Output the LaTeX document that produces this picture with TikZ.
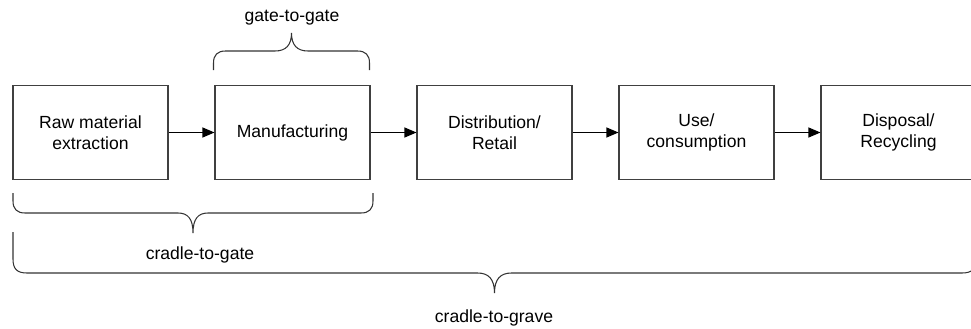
\documentclass[tikz,border=0pt]{standalone}
\usepackage{fontspec}
\setmainfont{Liberation Sans}
\usetikzlibrary{arrows.meta}

\begin{document}
\begin{tikzpicture}[>={Triangle[length=0.24cm,width=0.2cm]}]
\tikzset{stage/.style={draw=black!75, line width=0.6pt, rectangle, align=center,
  minimum width=3.1cm, minimum height=1.88cm}}
\tikzset{bracket/.style={draw=black!80, line width=0.6pt}}

\clip (0,0) rectangle (19.42,-6.58);

% Life cycle stages
\node[stage] (raw) at (1.81,-2.65) {Raw material\\extraction};
\node[stage] (manuf) at (5.85,-2.65) {Manufacturing};
\node[stage] (distr) at (9.89,-2.65) {Distribution/\\Retail};
\node[stage] (use) at (13.93,-2.65) {Use/\\consumption};
\node[stage] (disp) at (17.97,-2.65) {Disposal/\\Recycling};

% Connections
\draw[->, line width=0.6pt] (raw) -- (manuf);
\draw[->, line width=0.6pt] (manuf) -- (distr);
\draw[->, line width=0.6pt] (distr) -- (use);
\draw[->, line width=0.6pt] (use) -- (disp);

% Braces
\draw[bracket] (4.27,-1.40) -- (4.27,-1.26) .. controls (4.27,-1.10) and (4.35,-1.02) .. (4.51,-1.02)
  -- (5.50,-1.02) .. controls (5.72,-1.02) and (5.83,-0.90) .. (5.83,-0.66)
  .. controls (5.83,-0.90) and (5.94,-1.02) .. (6.16,-1.02)
  -- (7.15,-1.02) .. controls (7.31,-1.02) and (7.39,-1.10) .. (7.39,-1.26) -- (7.39,-1.40);
\node (g2g) at (5.84,-0.36) {gate-to-gate};

\draw[bracket] (0.26,-3.86) -- (0.26,-4.02) .. controls (0.26,-4.18) and (0.34,-4.26) .. (0.50,-4.26)
  -- (3.56,-4.26) .. controls (3.76,-4.26) and (3.86,-4.38) .. (3.86,-4.66)
  .. controls (3.86,-4.38) and (3.96,-4.26) .. (4.16,-4.26)
  -- (7.22,-4.26) .. controls (7.38,-4.26) and (7.46,-4.18) .. (7.46,-4.02) -- (7.46,-3.86);
\node (c2gate) at (4.0,-5.10) {cradle-to-gate};

\draw[bracket] (0.26,-4.64) -- (0.26,-5.18) .. controls (0.26,-5.38) and (0.34,-5.46) .. (0.54,-5.46)
  -- (9.55,-5.46) .. controls (9.77,-5.46) and (9.89,-5.58) .. (9.89,-5.86)
  .. controls (9.89,-5.58) and (10.01,-5.46) .. (10.23,-5.46)
  -- (19.24,-5.46) .. controls (19.44,-5.46) and (19.52,-5.38) .. (19.52,-5.18) -- (19.52,-4.64);
\node (c2grave) at (9.88,-6.36) {cradle-to-grave};

\end{tikzpicture}
\end{document}
